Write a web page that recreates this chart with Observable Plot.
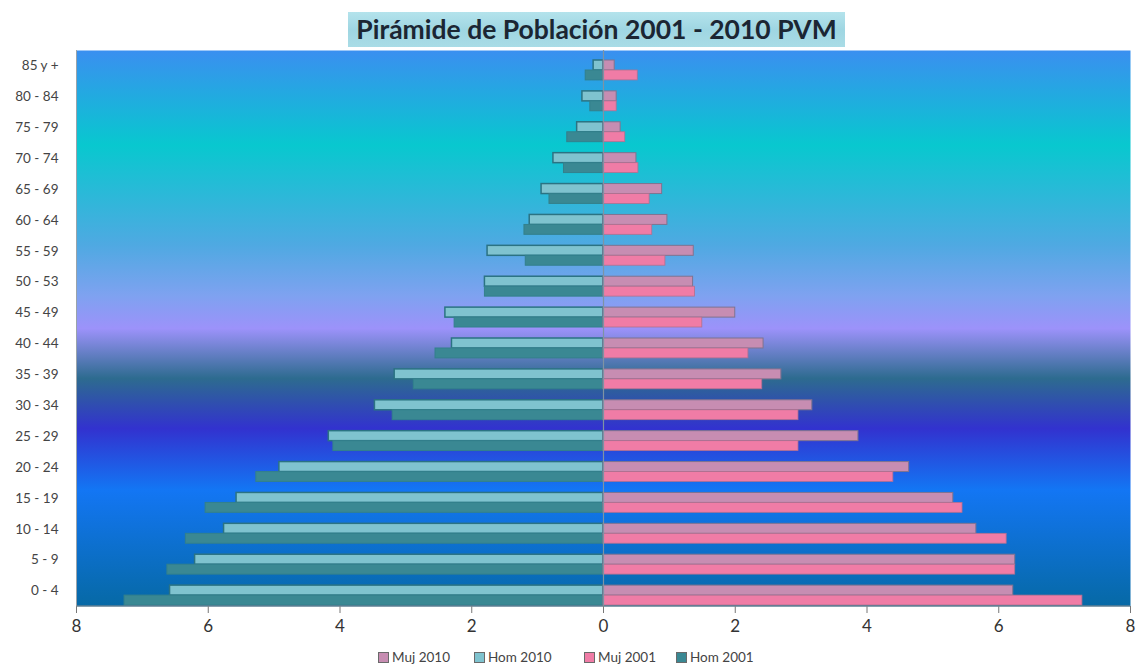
<!DOCTYPE html>
<html>
<head>
<meta charset="utf-8">
<script src="https://cdn.jsdelivr.net/npm/d3@7"></script>
<script src="https://cdn.jsdelivr.net/npm/@observablehq/plot@0.6"></script>
<style>
  body { margin: 0; background: #ffffff; width: 1138px; height: 666px; overflow: hidden; font-family: Lato, "Open Sans", sans-serif; }
  #titlebar { position: relative; height: 48px; }
  #titlebar .title {
    position: absolute; left: 348px; top: 12px; width: 497px; height: 35px;
    background: linear-gradient(180deg, #b4e3ec 0%, #9fd6e2 50%, #a9dce6 100%);
    font: bold 26.5px Lato, "Open Sans", sans-serif; color: #1b2633;
    text-align: center; line-height: 35px; white-space: nowrap;
  }
  #chart svg { display: block; }
  #legend { position: relative; height: 18px; font: 13.5px Lato, "Open Sans", sans-serif; color: #444; }
  #legend .item { position: absolute; top: 1px; display: flex; align-items: center; }
  #legend .sw { width: 9px; height: 9px; border: 1px solid #6a6a6a; margin-right: 3px; }
</style>
</head>
<body>
<div id="titlebar"><div class="title">Pirámide de Población 2001 - 2010 PVM</div></div>
<div id="chart"></div>
<div id="legend"></div>
<script>
// Age groups, youngest first
const ages = ["0 - 4","5 - 9","10 - 14","15 - 19","20 - 24","25 - 29","30 - 34","35 - 39","40 - 44","45 - 49","50 - 53","55 - 59","60 - 64","65 - 69","70 - 74","75 - 79","80 - 84","85 y +"];
// Percentages per series
const hom2010 = [6.58, 6.20, 5.76, 5.57, 4.92, 4.17, 3.47, 3.17, 2.30, 2.40, 1.80, 1.76, 1.12, 0.94, 0.76, 0.40, 0.32, 0.15];
const hom2001 = [7.27, 6.62, 6.34, 6.04, 5.27, 4.10, 3.20, 2.88, 2.55, 2.26, 1.80, 1.18, 1.20, 0.82, 0.60, 0.55, 0.20, 0.27];
const muj2010 = [6.22, 6.25, 5.66, 5.31, 4.64, 3.87, 3.17, 2.70, 2.43, 2.00, 1.36, 1.37, 0.97, 0.89, 0.50, 0.26, 0.20, 0.17];
const muj2001 = [7.27, 6.25, 6.12, 5.45, 4.40, 2.96, 2.96, 2.41, 2.20, 1.50, 1.39, 0.94, 0.74, 0.70, 0.53, 0.33, 0.20, 0.52];
const xTicks = [-8, -6, -4, -2, 0, 2, 4, 6, 8];
const seriesNames = ["Muj 2010", "Hom 2010", "Muj 2001", "Hom 2001"];
const seriesColors = ["#c78db2", "#7fc3cf", "#f07ca6", "#3a8893"];

const rows = (vals, sign) => ages.map((age, i) => ({age, value: sign * vals[i]}));
const dH10 = rows(hom2010, -1), dH01 = rows(hom2001, -1), dM10 = rows(muj2010, 1), dM01 = rows(muj2001, 1);

const chart = Plot.plot({
  width: 1138,
  height: 600,
  marginTop: 2,
  marginBottom: 42,
  marginLeft: 76,
  marginRight: 8,
  style: {fontFamily: "Lato, 'Open Sans', sans-serif", background: "transparent"},
  x: {domain: [-8, 8]},
  y: {domain: ages.slice().reverse(), padding: 0, round: false},
  marks: [
    Plot.frame({fill: "url(#bgGrad)"}),
    Plot.barX(dH10, {x: "value", y: "age", fill: seriesColors[1], stroke: "#2b7383", strokeWidth: 1.5, insetTop: 10, insetBottom: 10.9}),
    Plot.barX(dH01, {x: "value", y: "age", fill: seriesColors[3], stroke: "#33808c", strokeWidth: 1, insetTop: 20, insetBottom: 1}),
    Plot.barX(dM10, {x: "value", y: "age", fill: seriesColors[0], stroke: "#7f7390", strokeWidth: 1, insetTop: 10, insetBottom: 10.9}),
    Plot.barX(dM01, {x: "value", y: "age", fill: seriesColors[2], stroke: "#b07090", strokeWidth: 0.8, insetTop: 20, insetBottom: 1}),
    Plot.ruleX([0], {stroke: "#7f93a3", strokeWidth: 1.2}),
    Plot.ruleX([-8], {stroke: "#9aa3aa", strokeWidth: 1}),
    Plot.axisX({ticks: xTicks, tickFormat: d => Math.abs(d), fontSize: 17, tickSize: 7, tickPadding: 6, stroke: "#777", fill: "#333", label: null}),
    Plot.axisY({tickSize: 0, tickPadding: 18, fontSize: 13.5, fill: "#444", label: null})
  ]
});

// Background gradient for the plot area
const ns = "http://www.w3.org/2000/svg";
const defs = document.createElementNS(ns, "defs");
const grad = document.createElementNS(ns, "linearGradient");
grad.setAttribute("id", "bgGrad");
grad.setAttribute("x1", "0"); grad.setAttribute("y1", "0");
grad.setAttribute("x2", "0"); grad.setAttribute("y2", "1");
[[0, "#3a8ff0"], [0.17, "#08c8cf"], [0.35, "#4fa9e2"], [0.44, "#7ea2f0"], [0.5, "#9c92fa"],
 [0.59, "#2d6b8f"], [0.68, "#3232cf"], [0.79, "#1376f4"], [1, "#0669a5"]].forEach(([o, c]) => {
  const s = document.createElementNS(ns, "stop");
  s.setAttribute("offset", o); s.setAttribute("stop-color", c);
  grad.appendChild(s);
});
defs.appendChild(grad);
chart.insertBefore(defs, chart.firstChild);

// bottom axis line
const line = document.createElementNS(ns, "line");
line.setAttribute("x1", 76); line.setAttribute("x2", 1130);
line.setAttribute("y1", 558); line.setAttribute("y2", 558);
line.setAttribute("stroke", "#8a8a8a");
chart.appendChild(line);

document.getElementById("chart").appendChild(chart);

// Legend
const legend = document.getElementById("legend");
const lefts = [378, 474, 584, 676];
seriesNames.forEach((name, i) => {
  const it = document.createElement("div");
  it.className = "item";
  it.style.left = lefts[i] + "px";
  const sw = document.createElement("div");
  sw.className = "sw";
  sw.style.background = seriesColors[i];
  it.appendChild(sw);
  const t = document.createElement("span");
  t.textContent = name;
  it.appendChild(t);
  legend.appendChild(it);
});
</script>
</body>
</html>
